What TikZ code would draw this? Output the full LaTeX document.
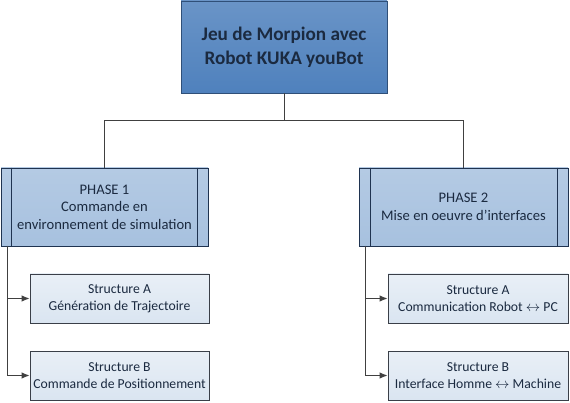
\documentclass[tikz,border=0pt]{standalone}
\usepackage{fontspec}
\setmainfont{Carlito}
\usepackage{tikz}
\usetikzlibrary{arrows,arrows.meta,shapes,calc}
\definecolor{topBlue}{HTML}{4F81BD}
\definecolor{topBorder}{HTML}{2F4F78}
\definecolor{phaseBlue}{HTML}{A7C1DF}
\definecolor{phaseBorder}{HTML}{1F3350}
\definecolor{structBlue}{HTML}{DAE5F1}
\definecolor{structBorder}{HTML}{3A3F48}
\definecolor{inkDark}{HTML}{1B2A40}
\tikzstyle{edge}=[line width=0.9pt, draw=black!75]
\tikzstyle{edgeArrow}=[line width=0.9pt, draw=black!75, -{Latex[length=8pt, width=6.5pt]}]
\tikzstyle{titleBox}=[rectangle, draw=topBorder, line width=0.9pt, top color=topBlue!85!white, bottom color=topBlue, text=inkDark, align=center, font=\fontsize{19.2}{24}\selectfont\bfseries, inner sep=0pt]
\tikzstyle{phaseBox}=[rectangle, draw=phaseBorder, line width=0.9pt, top color=phaseBlue!85!white, bottom color=phaseBlue, text=inkDark, align=center, font=\fontsize{14.6}{17.5}\selectfont, inner sep=0pt]
\tikzstyle{structBox}=[rectangle, draw=structBorder, line width=0.9pt, top color=structBlue!60!white, bottom color=structBlue, text=inkDark, align=center, font=\fontsize{13.7}{17}\selectfont, inner sep=0pt]
\tikzstyle{bar}=[line width=0.9pt, draw=phaseBorder]

\begin{document}
\begin{tikzpicture}[x=1pt, y=-1pt]
      \useasboundingbox (0,0) rectangle (570,403);
      \node(top) [titleBox, minimum width=206pt, minimum height=92pt] at (284, 47){Jeu de Morpion avec\\Robot KUKA youBot};
      \node(ph1) [phaseBox, minimum width=207pt, minimum height=78pt] at (104.5, 207){PHASE 1\\Commande en\\environnement de simulation};
      \node(ph2) [phaseBox, minimum width=209pt, minimum height=78pt] at (463.5, 207){PHASE 2\\Mise en oeuvre d'interfaces};
      \node(sA1) [structBox, minimum width=179pt, minimum height=49pt] at (119.5, 298.5){Structure A\\Génération de Trajectoire};
      \node(sB1) [structBox, minimum width=179pt, minimum height=49pt] at (119.5, 375.5){Structure B\\Commande de Positionnement};
      \node(sA2) [structBox, minimum width=180pt, minimum height=49pt] at (478, 298.5){Structure A\\Communication Robot $\leftrightarrow$ PC};
      \node(sB2) [structBox, minimum width=180pt, minimum height=49pt] at (478, 375.5){Structure B\\Interface Homme $\leftrightarrow$ Machine};
      \draw[bar] ([xshift=11pt]ph1.north west) to ([xshift=11pt]ph1.south west);
      \draw[bar] ([xshift=-11pt]ph1.north east) to ([xshift=-11pt]ph1.south east);
      \draw[bar] ([xshift=12pt]ph2.north west) to ([xshift=12pt]ph2.south west);
      \draw[bar] ([xshift=-11pt]ph2.north east) to ([xshift=-11pt]ph2.south east);
      \coordinate (split) at (284, 120);
      \coordinate (tap1) at (7, 246);
      \coordinate (tap2) at (365, 246);
      \draw[edge] (top) to (split) -| (ph1);
      \draw[edge] (split) -| (ph2);
      \draw[edgeArrow] (tap1) |- (sA1);
      \draw[edgeArrow] (tap1) |- (sB1);
      \draw[edgeArrow] (tap2) |- (sA2);
      \draw[edgeArrow] (tap2) |- (sB2);
    \end{tikzpicture}
\end{document}
